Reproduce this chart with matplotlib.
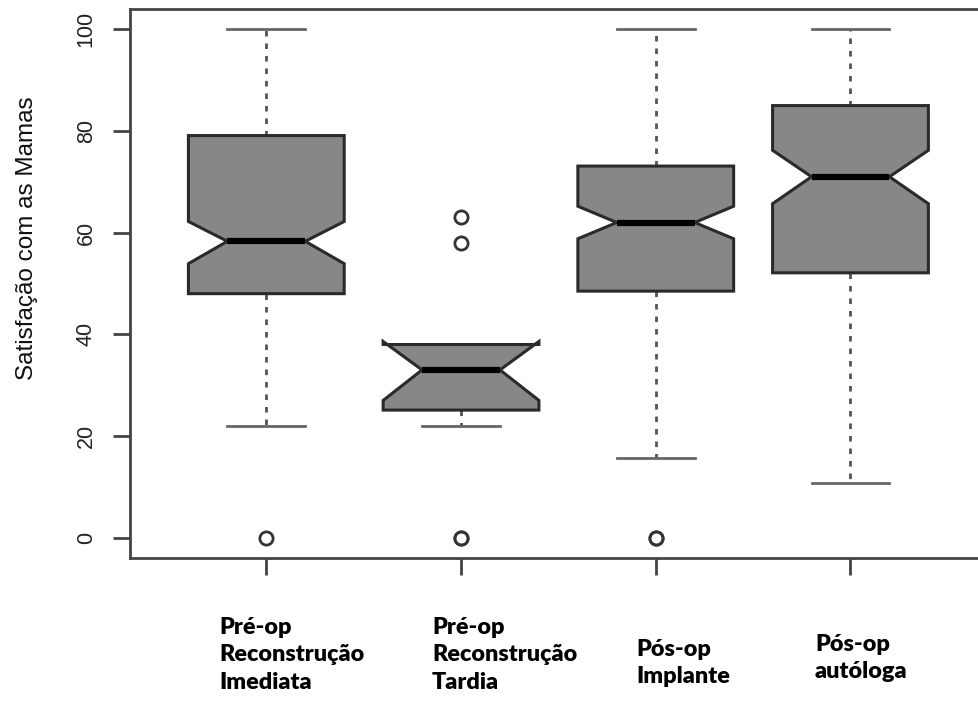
import matplotlib.pyplot as plt

# dados (boxplot com entalhe)
grupos = ["Pré-op\nReconstrução\nImediata", "Pré-op\nReconstrução\nTardia",
          "Pós-op\nImplante", "Pós-op\nautóloga"]
medianas = [58.3, 33.0, 62.0, 71.0]
q1 = [48.0, 25.1, 48.5, 52.1]
q3 = [79.1, 38.0, 73.1, 85.0]
whis_baixo = [22.0, 22.0, 15.7, 10.8]
whis_alto = [100.0, 38.0, 100.0, 100.0]
entalhe_baixo = [53.9, 27.0, 58.8, 65.7]
entalhe_alto = [62.2, 38.6, 65.2, 76.2]
outliers = [[0.0], [63.0, 58.0, 0.0, 0.0], [0.0, 0.0], []]

stats = []
for i in range(len(grupos)):
    stats.append(dict(med=medianas[i], q1=q1[i], q3=q3[i],
                      whislo=whis_baixo[i], whishi=whis_alto[i],
                      cilo=entalhe_baixo[i], cihi=entalhe_alto[i],
                      fliers=outliers[i]))

W, H = 979, 710
fig = plt.figure(figsize=(W / 100, H / 100), dpi=100)
ax = fig.add_axes([130 / W, (H - 558) / H, 849 / W, 549 / H])

ax.bxp(stats, positions=[1, 2, 3, 4], widths=0.8, shownotches=True,
       patch_artist=True,
       boxprops=dict(facecolor='#878787', edgecolor='#2a2a2a', linewidth=2.2, zorder=3),
       medianprops=dict(color='black', linewidth=4.5, zorder=4),
       whiskerprops=dict(color='#555555', linewidth=2, linestyle=(0, (2, 2.5)), zorder=2),
       capprops=dict(color='#666666', linewidth=2, zorder=2),
       flierprops=dict(marker='o', markerfacecolor='none', markeredgecolor='#333333',
                       markersize=9.5, markeredgewidth=2))

ax.set_xlim(0.30, 4.66)
ax.set_ylim(-4, 104)
ax.set_yticks([0, 20, 40, 60, 80, 100])
ax.set_yticklabels(['0', '20', '40', '60', '80', '100'], rotation=90, va='center',
                   family=['Liberation Sans Narrow', 'Liberation Sans'], fontsize=15.5,
                   color='#222222')
ax.set_xticks([1, 2, 3, 4])
ax.set_xticklabels([])
ax.tick_params(axis='both', length=12, width=2, color='#444444', pad=12)

ax.spines['right'].set_visible(False)
for s in ['left', 'top', 'bottom']:
    ax.spines[s].set_linewidth(2)
    ax.spines[s].set_color('#444444')

fig.text(27 / W, 1 - 238 / H, "Satisfação com as Mamas", rotation=90,
         ha='center', va='center', fontsize=17.5, family='Liberation Sans', color='#111111')

# rótulos dos grupos (texto sobreposto, alinhado à esquerda)
pos_x = [219, 432, 636, 815]
pos_y = [617, 617, 639, 634]
for g, x, y in zip(grupos, pos_x, pos_y):
    fig.text(x / W, 1 - y / H, g, ha='left', va='top', fontsize=16.8,
             family='Lato', fontweight='heavy', linespacing=1.38)

plt.savefig('out.png', dpi=100)
